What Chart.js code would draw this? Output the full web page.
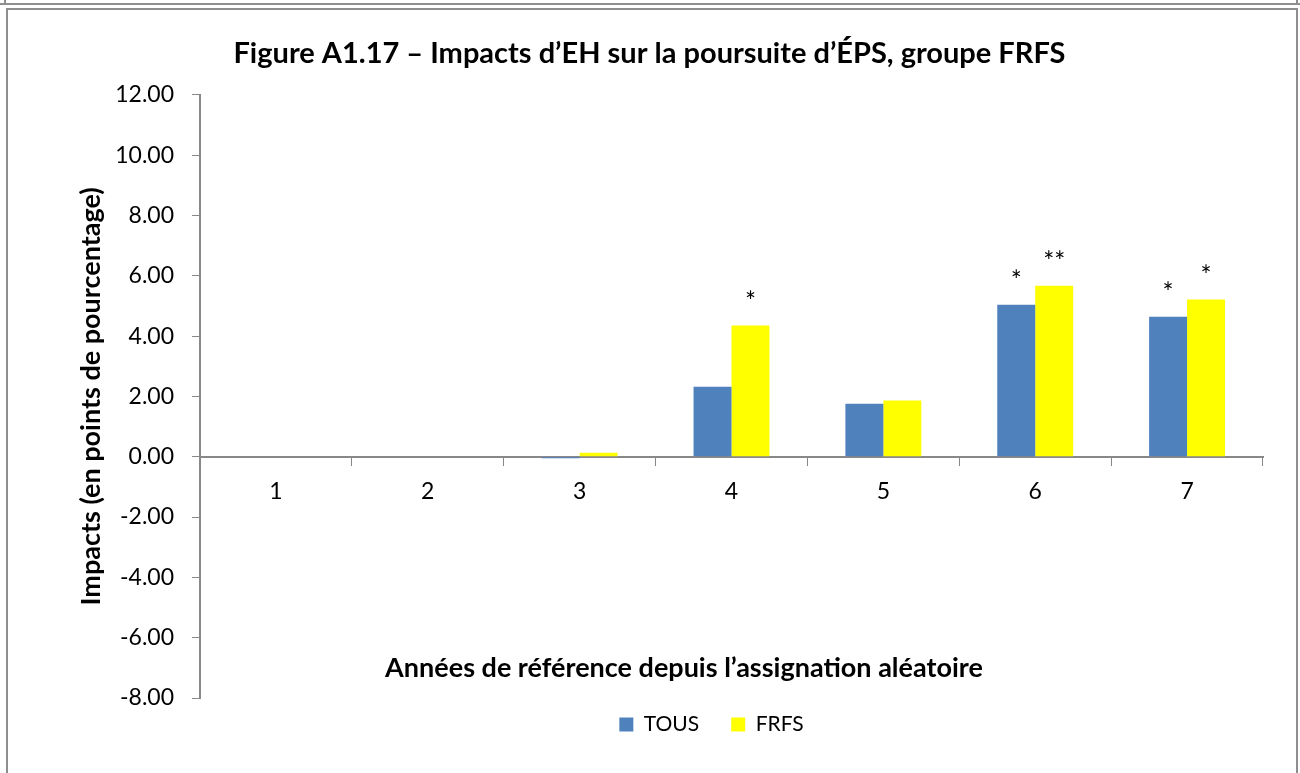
<!DOCTYPE html>
<html>
<head>
<meta charset="utf-8">
<script src="https://cdn.jsdelivr.net/npm/chart.js@4/dist/chart.umd.min.js"></script>
<style>
  html, body { margin: 0; padding: 0; background: #fff; }
  #wrap { position: relative; width: 1300px; height: 773px; overflow: hidden; }
  #chart { position: absolute; left: 0; top: 0; }
  .line { position: absolute; background: #8e8e8e; pointer-events: none; }
</style>
</head>
<body>
<div id="wrap">
  <canvas id="chart" width="1300" height="773"></canvas>
  <!-- bottom edge of the previous frame -->
  <div class="line" style="left:0;top:3px;width:1300px;height:2px"></div>
  <div class="line" style="left:4px;top:0;width:2px;height:4px"></div>
  <div class="line" style="left:1296px;top:0;width:2px;height:4px"></div>
  <!-- frame of this figure -->
  <div class="line" style="left:6px;top:8px;width:1292px;height:2px"></div>
  <div class="line" style="left:6px;top:8px;width:2px;height:765px"></div>
  <div class="line" style="left:1296px;top:8px;width:2px;height:765px"></div>
</div>
<script>
const categories = ['1', '2', '3', '4', '5', '6', '7'];
const tousValues = [null, null, -0.05, 2.32, 1.76, 5.04, 4.64];
const frfsValues = [null, null, 0.13, 4.35, 1.86, 5.67, 5.21];
const tousSig = ['', '', '', '', '', '*', '*'];
const frfsSig = ['', '', '', '*', '', '**', '*'];

const FONT = 'Lato, "Open Sans", sans-serif';

// significance stars above bars
const starPlugin = {
    id: 'stars',
    afterDatasetsDraw(chart) {
        const ctx = chart.ctx;
        ctx.save();
        ctx.fillStyle = '#000';
        ctx.font = '26px ' + FONT;
        ctx.textAlign = 'center';
        ctx.textBaseline = 'alphabetic';
        chart.data.datasets.forEach((ds, i) => {
            const meta = chart.getDatasetMeta(i);
            meta.data.forEach((bar, j) => {
                const s = ds.sig[j];
                if (s) ctx.fillText(s, bar.x, bar.y - 15);
            });
        });
        ctx.restore();
    }
};

// x axis title sits inside the plot area, near the bottom
const xTitlePlugin = {
    id: 'xTitle',
    afterDraw(chart) {
        const ctx = chart.ctx;
        ctx.save();
        ctx.fillStyle = '#000';
        ctx.font = 'bold 27px ' + FONT;
        ctx.textAlign = 'center';
        ctx.textBaseline = 'middle';
        ctx.fillText('Années de référence depuis l\u2019assignation aléatoire', 684, 668);
        ctx.restore();
    }
};

// nudge title and legend to where the original has them
const boxShift = {
    id: 'boxShift',
    afterLayout(chart) {
        const lg = chart.legend;
        lg.top -= 16;
        lg.bottom -= 16;
        lg.left += 80;
        lg.right += 80;
        const tb = chart.titleBlock;
        tb.left += 18;
        tb.right += 18;
    }
};

const data = {
    labels: categories,
    datasets: [{
        label: 'TOUS',
        backgroundColor: '#4F81BD',
        data: tousValues,
        sig: tousSig
    }, {
        label: 'FRFS',
        backgroundColor: '#FFFF00',
        data: frfsValues,
        sig: frfsSig
    }]
};

const config = {
    type: 'bar',
    data: data,
    plugins: [starPlugin, xTitlePlugin, boxShift],
    options: {
        responsive: false,
        animation: false,
        layout: { padding: { left: 0, right: 37, top: 0, bottom: 12 } },
        datasets: { bar: { categoryPercentage: 0.5, barPercentage: 1.0 } },
        plugins: {
            title: {
                display: true,
                text: 'Figure A1.17 \u2013 Impacts d\u2019EH sur la poursuite d\u2019ÉPS, groupe FRFS',
                color: '#000',
                font: { family: FONT, size: 29, weight: 'bold' },
                padding: { top: 36, bottom: 24 }
            },
            legend: {
                position: 'bottom',
                labels: {
                    color: '#000',
                    font: { family: FONT, size: 21 },
                    boxWidth: 14,
                    boxHeight: 14,
                    padding: 32
                }
            },
            tooltip: { enabled: false }
        },
        scales: {
            x: {
                position: { y: 0 },
                grid: { drawOnChartArea: false, drawTicks: true, tickLength: 8, color: '#888', offset: true },
                border: { color: '#888', width: 2 },
                ticks: { color: '#000', font: { family: FONT, size: 23 }, padding: 13 }
            },
            y: {
                min: -8,
                max: 12,
                afterFit(scale) { scale.width = 200; },
                grid: { drawOnChartArea: false, drawTicks: true, tickLength: 8, color: '#888' },
                border: { color: '#888', width: 2 },
                ticks: {
                    stepSize: 2,
                    color: '#000',
                    font: { family: FONT, size: 23 },
                    padding: 18,
                    callback: v => v.toFixed(2)
                },
                title: {
                    display: true,
                    text: 'Impacts (en points de pourcentage)',
                    color: '#000',
                    font: { family: FONT, size: 27, weight: 'bold' },
                    padding: { top: 75, bottom: 0 }
                }
            }
        }
    }
};

const chart = new Chart(document.getElementById('chart'), config);
</script>
</body>
</html>
